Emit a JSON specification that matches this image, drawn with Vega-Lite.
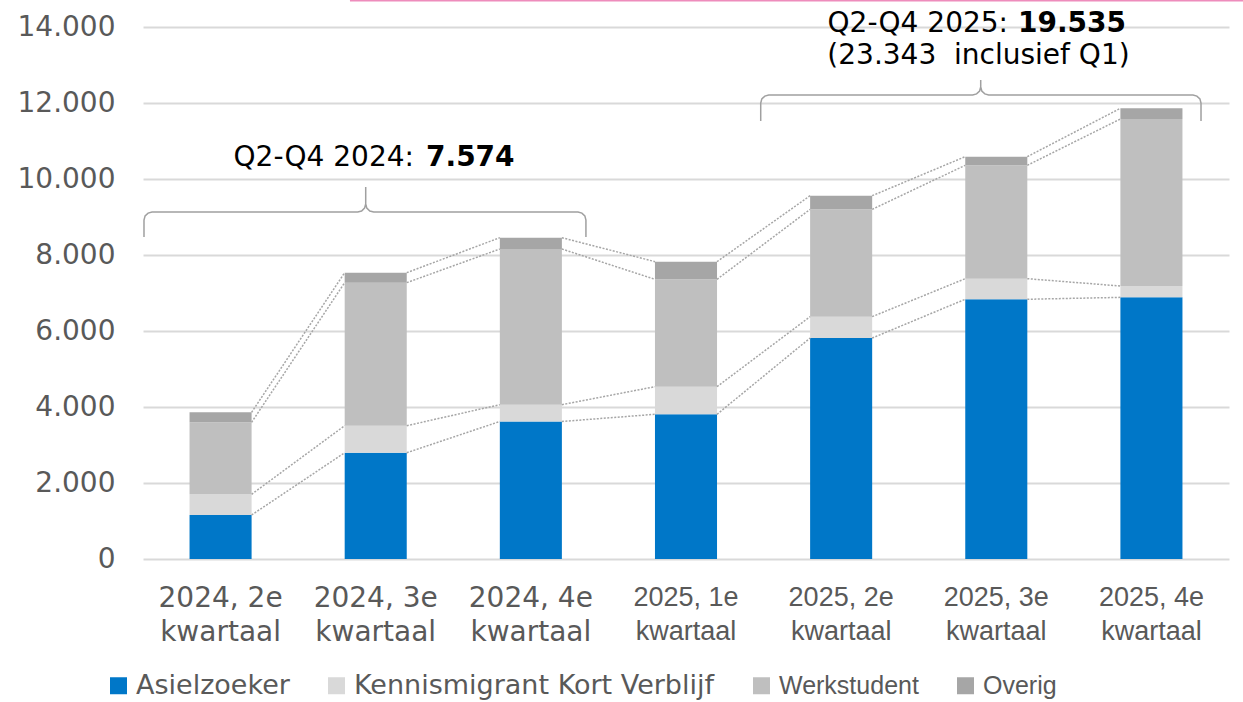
{
  "$schema": "https://vega.github.io/schema/vega-lite/v6.json",
  "width": 1086,
  "height": 532,
  "autosize": {"type": "none"},
  "padding": {"left": 143, "top": 27, "right": 14, "bottom": 143},
  "background": "white",
  "config": {
    "view": {"stroke": null},
    "font": "DejaVu Sans",
    "axis": {"domain": false, "ticks": false}
  },
  "datasets": {
    "main": [
      {"quarter": "2024, 2e kwartaal", "category": "Asielzoeker", "value": 1158},
      {"quarter": "2024, 2e kwartaal", "category": "Kennismigrant Kort Verblijf", "value": 545},
      {"quarter": "2024, 2e kwartaal", "category": "Werkstudent", "value": 1894},
      {"quarter": "2024, 2e kwartaal", "category": "Overig", "value": 263},
      {"quarter": "2024, 3e kwartaal", "category": "Asielzoeker", "value": 2797},
      {"quarter": "2024, 3e kwartaal", "category": "Kennismigrant Kort Verblijf", "value": 711},
      {"quarter": "2024, 3e kwartaal", "category": "Werkstudent", "value": 3764},
      {"quarter": "2024, 3e kwartaal", "category": "Overig", "value": 263},
      {"quarter": "2024, 4e kwartaal", "category": "Asielzoeker", "value": 3619},
      {"quarter": "2024, 4e kwartaal", "category": "Kennismigrant Kort Verblijf", "value": 442},
      {"quarter": "2024, 4e kwartaal", "category": "Werkstudent", "value": 4097},
      {"quarter": "2024, 4e kwartaal", "category": "Overig", "value": 298},
      {"quarter": "2025, 1e kwartaal", "category": "Asielzoeker", "value": 3808},
      {"quarter": "2025, 1e kwartaal", "category": "Kennismigrant Kort Verblijf", "value": 727},
      {"quarter": "2025, 1e kwartaal", "category": "Werkstudent", "value": 2825},
      {"quarter": "2025, 1e kwartaal", "category": "Overig", "value": 465},
      {"quarter": "2025, 2e kwartaal", "category": "Asielzoeker", "value": 5815},
      {"quarter": "2025, 2e kwartaal", "category": "Kennismigrant Kort Verblijf", "value": 562},
      {"quarter": "2025, 2e kwartaal", "category": "Werkstudent", "value": 2825},
      {"quarter": "2025, 2e kwartaal", "category": "Overig", "value": 359},
      {"quarter": "2025, 3e kwartaal", "category": "Asielzoeker", "value": 6835},
      {"quarter": "2025, 3e kwartaal", "category": "Kennismigrant Kort Verblijf", "value": 542},
      {"quarter": "2025, 3e kwartaal", "category": "Werkstudent", "value": 2983},
      {"quarter": "2025, 3e kwartaal", "category": "Overig", "value": 228},
      {"quarter": "2025, 4e kwartaal", "category": "Asielzoeker", "value": 6885},
      {"quarter": "2025, 4e kwartaal", "category": "Kennismigrant Kort Verblijf", "value": 299},
      {"quarter": "2025, 4e kwartaal", "category": "Werkstudent", "value": 4395},
      {"quarter": "2025, 4e kwartaal", "category": "Overig", "value": 281}
    ],
    "braces": [
      {"b": 1, "i": 0, "x": 0.0064, "y": 8474},
      {"b": 1, "i": 1, "x": 0.0064, "y": 8921},
      {"b": 1, "i": 2, "x": 0.0135, "y": 9029},
      {"b": 1, "i": 3, "x": 0.0329, "y": 9103},
      {"b": 1, "i": 4, "x": 0.058, "y": 9132},
      {"b": 1, "i": 5, "x": 1.384, "y": 9132},
      {"b": 1, "i": 6, "x": 1.409, "y": 9158},
      {"b": 1, "i": 7, "x": 1.428, "y": 9234},
      {"b": 1, "i": 8, "x": 1.4355, "y": 9342},
      {"b": 1, "i": 9, "x": 1.4355, "y": 9789},
      {"b": 1, "i": 10, "x": 1.4355, "y": 9342},
      {"b": 1, "i": 11, "x": 1.4426, "y": 9234},
      {"b": 1, "i": 12, "x": 1.462, "y": 9158},
      {"b": 1, "i": 13, "x": 1.487, "y": 9132},
      {"b": 1, "i": 14, "x": 2.804, "y": 9132},
      {"b": 1, "i": 15, "x": 2.829, "y": 9103},
      {"b": 1, "i": 16, "x": 2.848, "y": 9029},
      {"b": 1, "i": 17, "x": 2.855, "y": 8921},
      {"b": 1, "i": 18, "x": 2.855, "y": 8474},
      {"b": 2, "i": 0, "x": 3.9816, "y": 11526},
      {"b": 2, "i": 1, "x": 3.9816, "y": 12000},
      {"b": 2, "i": 2, "x": 3.9887, "y": 12108},
      {"b": 2, "i": 3, "x": 4.008, "y": 12182},
      {"b": 2, "i": 4, "x": 4.0332, "y": 12211},
      {"b": 2, "i": 5, "x": 5.348, "y": 12211},
      {"b": 2, "i": 6, "x": 5.373, "y": 12240},
      {"b": 2, "i": 7, "x": 5.3925, "y": 12316},
      {"b": 2, "i": 8, "x": 5.3996, "y": 12421},
      {"b": 2, "i": 9, "x": 5.3996, "y": 12605},
      {"b": 2, "i": 10, "x": 5.3996, "y": 12421},
      {"b": 2, "i": 11, "x": 5.4067, "y": 12316},
      {"b": 2, "i": 12, "x": 5.426, "y": 12240},
      {"b": 2, "i": 13, "x": 5.451, "y": 12211},
      {"b": 2, "i": 14, "x": 6.768, "y": 12211},
      {"b": 2, "i": 15, "x": 6.793, "y": 12182},
      {"b": 2, "i": 16, "x": 6.8125, "y": 12108},
      {"b": 2, "i": 17, "x": 6.8196, "y": 12000},
      {"b": 2, "i": 18, "x": 6.8196, "y": 11526}
    ]
  },
  "resolve": {"scale": {"x": "independent"}, "axis": {"x": "independent", "y": "independent"}},
  "layer": [
    {
      "data": {"name": "main"},
      "transform": [
        {"calculate": "indexof(['Asielzoeker','Kennismigrant Kort Verblijf','Werkstudent','Overig'], datum.category)", "as": "catOrder"}
      ],
      "mark": {"type": "bar"},
      "encoding": {
        "x": {
          "field": "quarter", "type": "nominal",
          "sort": ["2024, 2e kwartaal","2024, 3e kwartaal","2024, 4e kwartaal","2025, 1e kwartaal","2025, 2e kwartaal","2025, 3e kwartaal","2025, 4e kwartaal"],
          "scale": {"paddingInner": 0.6, "paddingOuter": 0.3},
          "axis": {
            "title": null,
            "labelAngle": 0,
            "labelExpr": "[substring(datum.label, 0, 8), 'kwartaal']",
            "labelFont": {"condition": {"test": "indexof(datum.value, '2025') == 0", "value": "Liberation Sans"}, "value": "DejaVu Sans"},
            "labelFontSize": {"condition": {"test": "indexof(datum.value, '2025') == 0", "value": 27}, "value": 28},
            "labelColor": "#595959",
            "labelPadding": 25,
            "labelLineHeight": 34,
            "grid": false,
            "domain": false,
            "ticks": false
          }
        },
        "y": {
          "field": "value", "type": "quantitative", "stack": "zero",
          "scale": {"domain": [0, 14000], "nice": false},
          "axis": {
            "title": null,
            "values": [0, 2000, 4000, 6000, 8000, 10000, 12000, 14000],
            "labelExpr": "replace(format(datum.value, ','), ',', '.')",
            "labelFont": "DejaVu Sans",
            "labelFontSize": 28,
            "labelColor": "#595959",
            "labelPadding": 28,
            "grid": true,
            "gridColor": "#D9D9D9",
            "gridWidth": 2,
            "domain": false,
            "ticks": false,
            "zindex": 0
          }
        },
        "color": {
          "field": "category", "type": "nominal",
          "scale": {
            "domain": ["Asielzoeker", "Kennismigrant Kort Verblijf", "Werkstudent", "Overig"],
            "range": ["#0077C8", "#D9D9D9", "#BFBFBF", "#A6A6A6"]
          },
          "legend": {
            "title": null,
            "orient": "none",
            "legendX": -33,
            "legendY": 650,
            "direction": "horizontal",
            "symbolType": "square",
            "symbolSize": 289,
            "symbolStrokeWidth": 0,
            "labelFontSize": 27,
            "labelColor": "#595959",
            "labelLimit": 0,
            "labelOffset": 9,
            "columnPadding": 38,
            "encode": {
              "labels": {
                "update": {
                  "font": [{"test": "datum.label == 'Werkstudent' || datum.label == 'Overig'", "value": "Liberation Sans"}, {"value": "DejaVu Sans"}],
                  "fontSize": [{"test": "datum.label == 'Werkstudent' || datum.label == 'Overig'", "value": 25}, {"value": 27}]
                }
              }
            }
          }
        },
        "order": {"field": "catOrder", "type": "quantitative"}
      }
    },
    {
      "data": {"name": "main"},
      "transform": [
        {"calculate": "indexof(['Asielzoeker','Kennismigrant Kort Verblijf','Werkstudent','Overig'], datum.category)", "as": "catOrder"},
        {"calculate": "indexof(['2024, 2e kwartaal','2024, 3e kwartaal','2024, 4e kwartaal','2025, 1e kwartaal','2025, 2e kwartaal','2025, 3e kwartaal','2025, 4e kwartaal'], datum.quarter)", "as": "qi"},
        {"stack": "value", "groupby": ["quarter"], "sort": [{"field": "catOrder", "order": "ascending"}], "as": ["s0", "s1"]},
        {"window": [{"op": "lead", "field": "s1", "as": "nextTop"}], "groupby": ["category"], "sort": [{"field": "qi", "order": "ascending"}]},
        {"filter": "datum.nextTop != null"},
        {"calculate": "datum.qi + 0.7", "as": "xa"},
        {"calculate": "datum.qi + 1.3", "as": "xb"}
      ],
      "mark": {"type": "rule", "color": "#A6A6A6", "strokeWidth": 1.5, "strokeDash": [2, 1.5]},
      "encoding": {
        "x": {"field": "xa", "type": "quantitative", "scale": {"domain": [0, 7], "nice": false, "zero": false}, "axis": null},
        "x2": {"field": "xb"},
        "y": {"field": "s1", "type": "quantitative", "scale": {"domain": [0, 14000], "nice": false}, "axis": null},
        "y2": {"field": "nextTop"}
      }
    },
    {
      "data": {"name": "braces"},
      "mark": {"type": "line", "color": "#A0A0A0", "strokeWidth": 1.5, "clip": false},
      "encoding": {
        "x": {"field": "x", "type": "quantitative", "scale": {"domain": [0, 7], "nice": false, "zero": false}, "axis": null},
        "y": {"field": "y", "type": "quantitative", "scale": {"domain": [0, 14000], "nice": false}, "axis": null},
        "detail": {"field": "b", "type": "nominal"},
        "order": {"field": "i", "type": "quantitative"}
      }
    },
    {
      "data": {"values": [
        {"x": 1.334, "x2": 7.1, "y": 14697}
      ]},
      "mark": {"type": "rule", "color": "#EE8CBC", "strokeWidth": 2, "clip": false},
      "encoding": {
        "x": {"field": "x", "type": "quantitative", "scale": {"domain": [0, 7], "nice": false, "zero": false}, "axis": null},
        "x2": {"field": "x2"},
        "y": {"field": "y", "type": "quantitative", "scale": {"domain": [0, 14000], "nice": false}, "axis": null}
      }
    },
    {
      "data": {"values": [
        {"x": 1.7468, "y": 10342, "t": "Q2-Q4 2024:"},
        {"x": 5.5756, "y": 13868, "t": "Q2-Q4 2025:"}
      ]},
      "mark": {"type": "text", "align": "right", "baseline": "alphabetic", "font": "DejaVu Sans", "fontSize": 28, "color": "#000000", "clip": false},
      "encoding": {
        "x": {"field": "x", "type": "quantitative", "scale": {"domain": [0, 7], "nice": false, "zero": false}, "axis": null},
        "y": {"field": "y", "type": "quantitative", "scale": {"domain": [0, 14000], "nice": false}, "axis": null},
        "text": {"field": "t"}
      }
    },
    {
      "data": {"values": [
        {"x": 1.8242, "y": 10342, "t": "7.574"},
        {"x": 5.6401, "y": 13868, "t": "19.535"}
      ]},
      "mark": {"type": "text", "align": "left", "baseline": "alphabetic", "font": "DejaVu Sans", "fontWeight": "bold", "fontSize": 28, "color": "#000000", "clip": false},
      "encoding": {
        "x": {"field": "x", "type": "quantitative", "scale": {"domain": [0, 7], "nice": false, "zero": false}, "axis": null},
        "y": {"field": "y", "type": "quantitative", "scale": {"domain": [0, 14000], "nice": false}, "axis": null},
        "text": {"field": "t"}
      }
    },
    {
      "data": {"values": [
        {"x": 5.3853, "y": 13026, "t": "(23.343\u00a0 inclusief Q1)"}
      ]},
      "mark": {"type": "text", "align": "center", "baseline": "alphabetic", "font": "DejaVu Sans", "fontSize": 28, "color": "#000000", "clip": false},
      "encoding": {
        "x": {"field": "x", "type": "quantitative", "scale": {"domain": [0, 7], "nice": false, "zero": false}, "axis": null},
        "y": {"field": "y", "type": "quantitative", "scale": {"domain": [0, 14000], "nice": false}, "axis": null},
        "text": {"field": "t"}
      }
    }
  ]
}
